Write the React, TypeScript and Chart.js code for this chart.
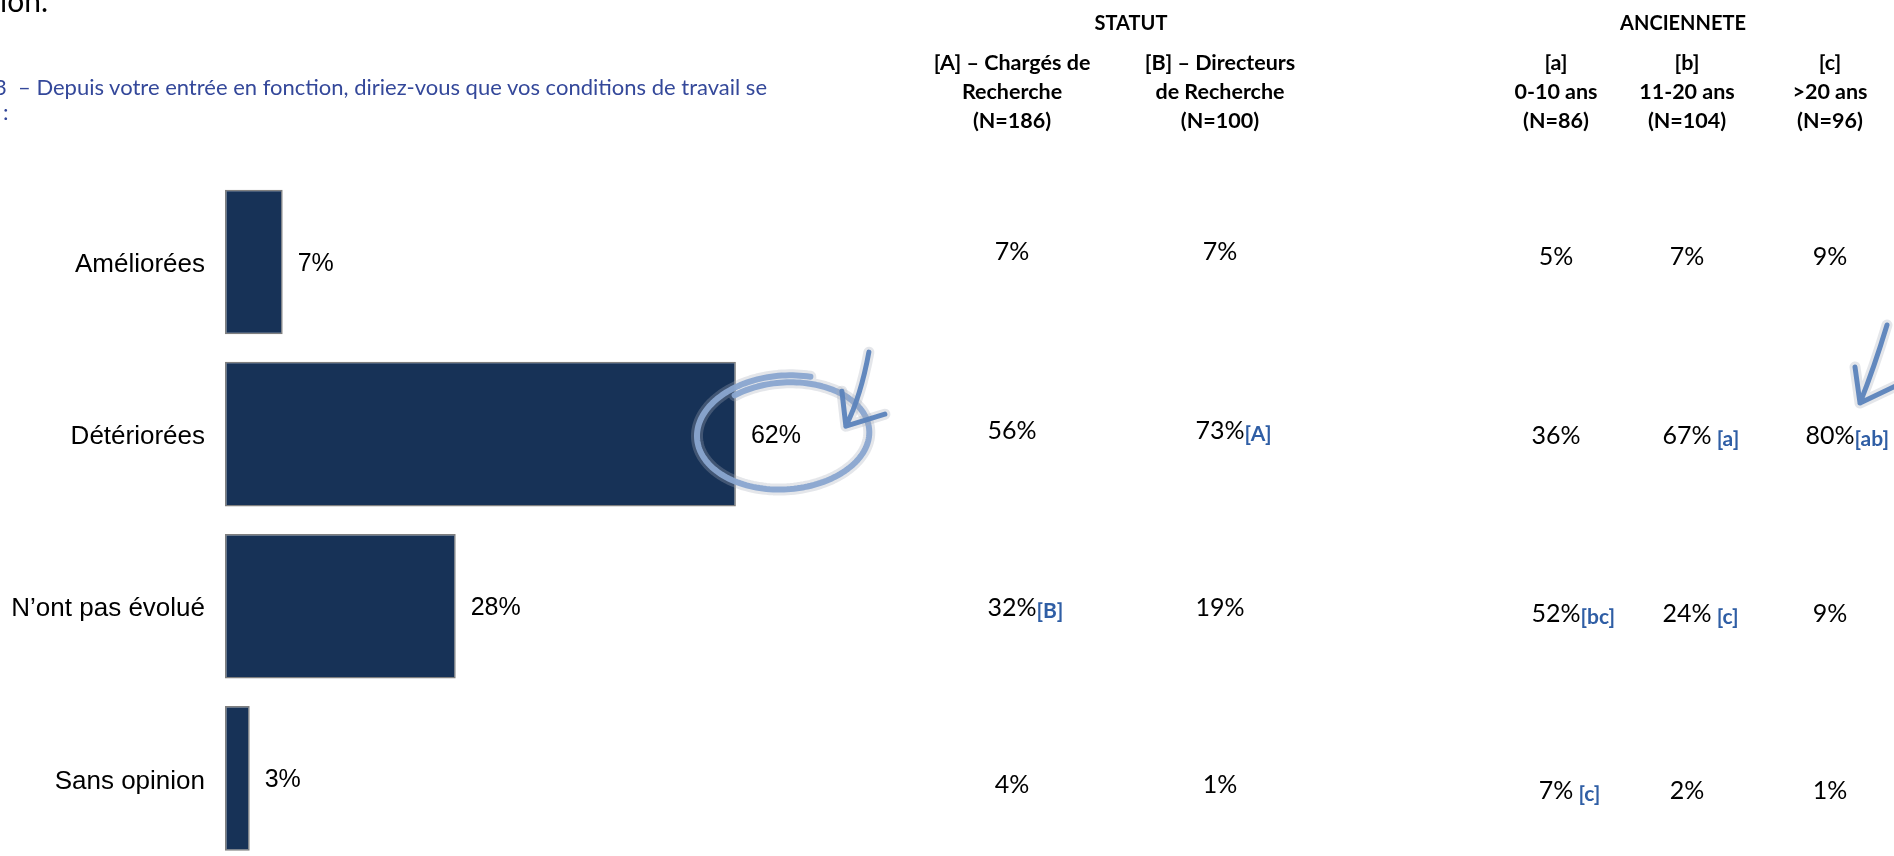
import React, { useEffect, useRef } from "react";
import { Chart, registerables } from "chart.js";

Chart.register(...registerables);

// ---------- data ----------
const categories = ["Améliorées", "Détériorées", "N’ont pas évolué", "Sans opinion"];
const overallValues = [7, 62, 28, 3];

const statutTitle = "STATUT";
const ancienneteTitle = "ANCIENNETE";
const statutHeaders = [
  ["[A] – Chargés de", "Recherche", "(N=186)"],
  ["[B] – Directeurs", "de Recherche", "(N=100)"],
];
const ancienneteHeaders = [
  ["[a]", "0-10 ans", "(N=86)"],
  ["[b]", "11-20 ans", "(N=104)"],
  ["[c]", ">20 ans", "(N=96)"],
];
const chargesValues = [7, 56, 32, 4];
const directeursValues = [7, 73, 19, 1];
const anc0010Values = [5, 36, 52, 7];
const anc1120Values = [7, 67, 24, 2];
const ancOver20Values = [9, 80, 9, 1];
const chargesSig = ["", "", "[B]", ""];
const directeursSig = ["", "[A]", "", ""];
const anc0010Sig = ["", "", "[bc]", " [c]"];
const anc1120Sig = ["", " [a]", " [c]", ""];
const ancOver20Sig = ["", "[ab]", "", ""];

const questionLine1 = "3  – Depuis votre entrée en fonction, diriez-vous que vos conditions de travail se";
const questionLine2 = ":";
const topFragment = "ion.";

// ---------- layout ----------
const W = 1894;
const H = 900;
const statutX = [1012, 1220];
const ancX = [1556, 1687, 1830];
const statutRowsY = [250, 429, 606, 783];
const ancRowsY = [255, 434, 612, 789];
const FONT_CAL = "Lato, 'Open Sans', sans-serif";
const FONT_ARIAL = "'Liberation Sans', Arial, sans-serif";

const valueLabels = {
  id: "valueLabels",
  afterDatasetsDraw(chart: any) {
    const ctx = chart.ctx;
    const meta = chart.getDatasetMeta(0);
    ctx.save();
    ctx.font = `25px ${FONT_ARIAL}`;
    ctx.fillStyle = "#000";
    ctx.textAlign = "left";
    ctx.textBaseline = "middle";
    meta.data.forEach((bar: any, i: number) => {
      ctx.fillText(overallValues[i] + "%", bar.x + 15, bar.y + 2);
    });
    ctx.restore();
  },
};

function strokeHand(ctx: CanvasRenderingContext2D, path: () => void, color: string, width: number) {
  ctx.save();
  ctx.lineCap = "round";
  ctx.lineJoin = "round";
  ctx.strokeStyle = "rgba(165,172,184,0.3)";
  ctx.lineWidth = width + 6;
  path();
  ctx.stroke();
  ctx.strokeStyle = color;
  ctx.lineWidth = width;
  path();
  ctx.stroke();
  ctx.restore();
}

function drawArrow(ctx: CanvasRenderingContext2D, s: number[], c: number[], t: number[], w1: number[], w2: number[]) {
  strokeHand(
    ctx,
    () => {
      ctx.beginPath();
      ctx.moveTo(s[0], s[1]);
      ctx.quadraticCurveTo(c[0], c[1], t[0], t[1]);
      ctx.moveTo(w1[0], w1[1]);
      ctx.lineTo(t[0], t[1]);
      ctx.lineTo(w2[0], w2[1]);
    },
    "rgba(92,132,188,0.95)",
    5
  );
}

const annotations = {
  id: "annotations",
  afterDraw(chart: any) {
    const ctx: CanvasRenderingContext2D = chart.ctx;
    const bar = chart.getDatasetMeta(0).data[1];
    const cx = bar.x + 49;
    const cy = bar.y;
    const rot = -0.05;
    strokeHand(
      ctx,
      () => {
        ctx.beginPath();
        const start = -1.25;
        const total = Math.PI * 2 + 0.95;
        const n = 180;
        for (let k = 0; k <= n; k++) {
          const t = k / n;
          const a = start - t * total;
          const rx = 90 - 8 * t;
          const ry = 59 - 8 * t;
          const px = rx * Math.cos(a);
          const py = ry * Math.sin(a);
          const x = cx + px * Math.cos(rot) - py * Math.sin(rot);
          const y = cy + px * Math.sin(rot) + py * Math.cos(rot);
          if (k === 0) ctx.moveTo(x, y);
          else ctx.lineTo(x, y);
        }
      },
      "rgba(138,166,208,0.95)",
      6
    );
    drawArrow(ctx, [cx + 84, cy - 82], [cx + 76, cy - 38], [cx + 61, cy - 8], [cx + 57, cy - 43], [cx + 100, cy - 20]);
    drawArrow(ctx, [1887, 325], [1874, 368], [1860, 403], [1855, 367], [1902, 383]);
  },
};

function Cell({ x, y, value, sig }: { x: number; y: number; value: number; sig: string }) {
  return (
    <div
      style={{
        position: "absolute",
        left: x,
        top: y,
        transform: "translate(-50%, -50%)",
        fontFamily: FONT_CAL,
        fontSize: 25,
        lineHeight: "30px",
        color: "#000",
        whiteSpace: "nowrap",
      }}
    >
      {value}%
      {sig ? (
        <span
          style={{
            position: "absolute",
            left: "100%",
            top: 4,
            fontWeight: 700,
            fontSize: 21,
            color: "#2f5ea5",
            whiteSpace: "pre",
          }}
        >
          {sig}
        </span>
      ) : null}
    </div>
  );
}

function Header({ x, lines }: { x: number; lines: string[] }) {
  return (
    <div
      style={{
        position: "absolute",
        left: x,
        top: 48,
        transform: "translateX(-50%)",
        fontFamily: FONT_CAL,
        fontWeight: 700,
        fontSize: 21.5,
        lineHeight: "29px",
        textAlign: "center",
        color: "#000",
        whiteSpace: "nowrap",
      }}
    >
      {lines.map((l, i) => (
        <div key={i}>{l}</div>
      ))}
    </div>
  );
}

export default function App() {
  const ref = useRef<HTMLCanvasElement>(null);
  useEffect(() => {
    if (!ref.current) return;
    const chart = new Chart(ref.current, {
      type: "bar",
      data: {
        labels: categories,
        datasets: [
          {
            data: overallValues,
            backgroundColor: "#173257",
            borderColor: "#7f7f7f",
            borderWidth: 1.5,
            borderSkipped: false,
            barPercentage: 0.84,
            categoryPercentage: 1,
          },
        ],
      },
      options: {
        indexAxis: "y",
        responsive: false,
        animation: false,
        devicePixelRatio: 1,
        layout: { padding: { top: 176, bottom: 24, right: 845, left: 0 } },
        plugins: { legend: { display: false }, tooltip: { enabled: false } },
        scales: {
          x: { display: false, min: 0, max: 100 },
          y: {
            grid: { display: false, drawTicks: false },
            border: { display: false },
            ticks: { padding: 20, labelOffset: 3, color: "#000", font: { family: FONT_ARIAL, size: 26 } },
            afterFit: (s: any) => {
              s.width = 225;
            },
          },
        },
      } as any,
      plugins: [valueLabels, annotations],
    });
    return () => chart.destroy();
  }, []);

  const statutCols = [
    { v: chargesValues, s: chargesSig },
    { v: directeursValues, s: directeursSig },
  ];
  const ancCols = [
    { v: anc0010Values, s: anc0010Sig },
    { v: anc1120Values, s: anc1120Sig },
    { v: ancOver20Values, s: ancOver20Sig },
  ];

  const titleStyle: React.CSSProperties = {
    position: "absolute",
    top: 22,
    transform: "translate(-50%, -50%)",
    fontFamily: FONT_CAL,
    fontWeight: 700,
    fontSize: 20,
    lineHeight: "29px",
    whiteSpace: "nowrap",
  };

  return (
    <div style={{ position: "fixed", left: 0, top: 0, width: W, height: H, background: "#fff", overflow: "hidden" }}>
      <canvas ref={ref} width={W} height={H} style={{ position: "absolute", left: 0, top: 0, width: W, height: H }} />
      <div style={{ position: "absolute", left: 0, top: -14.6, fontFamily: FONT_CAL, fontSize: 30, lineHeight: "30px", color: "#000" }}>
        {topFragment}
      </div>
      <div
        style={{
          position: "absolute",
          left: -6,
          top: 74,
          fontFamily: FONT_CAL,
          fontSize: 22,
          lineHeight: "26px",
          color: "#34489a",
          whiteSpace: "pre",
        }}
      >
        {questionLine1}
      </div>
      <div style={{ position: "absolute", left: 3, top: 99, fontFamily: FONT_CAL, fontSize: 22, lineHeight: "26px", color: "#34489a" }}>
        {questionLine2}
      </div>
      <div style={{ ...titleStyle, left: 1131 }}>{statutTitle}</div>
      <div style={{ ...titleStyle, left: 1683 }}>{ancienneteTitle}</div>
      {statutHeaders.map((h, i) => (
        <Header key={"sh" + i} x={statutX[i]} lines={h} />
      ))}
      {ancienneteHeaders.map((h, i) => (
        <Header key={"ah" + i} x={ancX[i]} lines={h} />
      ))}
      {statutCols.map((c, ci) =>
        c.v.map((v, ri) => <Cell key={`s${ci}-${ri}`} x={statutX[ci]} y={statutRowsY[ri]} value={v} sig={c.s[ri]} />)
      )}
      {ancCols.map((c, ci) =>
        c.v.map((v, ri) => <Cell key={`a${ci}-${ri}`} x={ancX[ci]} y={ancRowsY[ri]} value={v} sig={c.s[ri]} />)
      )}
    </div>
  );
}
